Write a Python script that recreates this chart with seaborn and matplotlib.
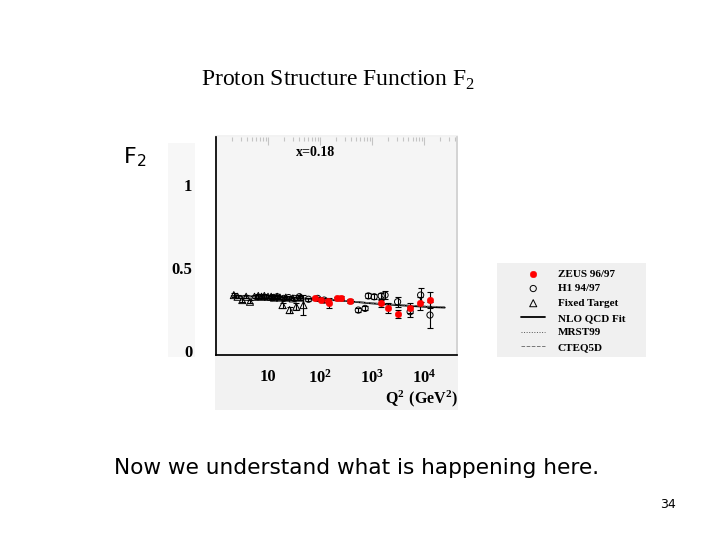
import numpy as np
import pandas as pd
import seaborn as sns
import matplotlib.pyplot as plt
from matplotlib.patches import Rectangle
from matplotlib.ticker import FixedLocator, FixedFormatter, LogLocator, NullFormatter, MultipleLocator
from matplotlib.transforms import ScaledTranslation

# Fixed target data (open triangles)
ft_q2 = [2.2, 2.6, 3.2, 3.8, 4.5, 5.5, 6.5, 7.5, 8.5, 10, 11.5, 13, 15, 17, 19, 22, 26, 30, 35, 42, 48]
ft_f2 = [0.36, 0.35, 0.33, 0.35, 0.32, 0.35, 0.355, 0.35, 0.355, 0.35, 0.35, 0.345, 0.35, 0.345,
         0.30, 0.345, 0.27, 0.34, 0.29, 0.345, 0.30]
ft_err = [0.01, 0.01, 0.01, 0.01, 0.01, 0.01, 0.01, 0.01, 0.01, 0.01, 0.01, 0.01, 0.01, 0.01,
          0.015, 0.01, 0.02, 0.01, 0.02, 0.012, 0.06]

# H1 94/97 (open circles)
h1_q2 = [12, 15, 20, 25, 32, 40, 60, 90, 120, 545, 735, 850, 1100, 1500, 1780, 3100, 5400, 8600, 13000]
h1_f2 = [0.345, 0.35, 0.34, 0.345, 0.34, 0.35, 0.335, 0.34, 0.33, 0.27, 0.28, 0.355, 0.35, 0.355,
         0.36, 0.32, 0.26, 0.36, 0.24]
h1_err = [0.01, 0.01, 0.01, 0.01, 0.01, 0.01, 0.01, 0.01, 0.01, 0.012, 0.012, 0.015, 0.015, 0.02,
          0.025, 0.03, 0.03, 0.04, 0.08]

# ZEUS 96/97 (red filled circles)
zeus_q2 = [80, 105, 140, 150, 210, 255, 380, 1500, 2050, 3100, 5400, 8400, 13000]
zeus_f2 = [0.34, 0.33, 0.325, 0.31, 0.34, 0.345, 0.325, 0.31, 0.28, 0.245, 0.28, 0.31, 0.33]
zeus_err = [0.008, 0.008, 0.008, 0.03, 0.008, 0.008, 0.01, 0.02, 0.03, 0.025, 0.03, 0.04, 0.05]

# theory curves
fit_q2 = [2, 5, 10, 30, 100, 300, 1000, 3000, 10000, 25000]
nlo_f2 = [0.355, 0.352, 0.348, 0.342, 0.335, 0.325, 0.31, 0.30, 0.29, 0.285]
mrst_f2 = [0.357, 0.354, 0.35, 0.343, 0.335, 0.324, 0.311, 0.302, 0.293, 0.288]
cteq_f2 = [0.353, 0.35, 0.347, 0.341, 0.334, 0.326, 0.312, 0.303, 0.294, 0.29]

xtick_pos = [10, 100, 1000, 10000]
xtick_labels = ["10", r"$\mathbf{10^{2}}$", r"$\mathbf{10^{3}}$", r"$\mathbf{10^{4}}$"]
ytick_pos = [0, 0.5, 1]
ytick_labels = ["0", "0.5", "1"]
legend_order = ["ZEUS 96/97", "H1 94/97", "Fixed Target", "NLO QCD Fit", "MRST99", "CTEQ5D"]

sns.set_theme(style="white")
plt.rcParams['font.family'] = ['Liberation Serif', 'DejaVu Sans']
plt.rcParams['mathtext.fontset'] = 'custom'
plt.rcParams['mathtext.rm'] = 'Liberation Serif'
plt.rcParams['mathtext.bf'] = 'Liberation Serif:bold'
plt.rcParams['mathtext.sf'] = 'DejaVu Sans'
plt.rcParams['text.color'] = 'black'
plt.rcParams['xtick.labelcolor'] = 'black'
plt.rcParams['ytick.labelcolor'] = 'black'

W, H = 720, 540
fig = plt.figure(figsize=(7.2, 5.4), dpi=100)


def box(x0, y0, x1, y1):
    return [x0 / W, 1 - y1 / H, (x1 - x0) / W, (y1 - y0) / H]


# grey backgrounds of the pasted pictures
for x0, y0, x1, y1, c in [(168, 143, 195, 357, '#f7f7f7'),
                          (215, 135, 458, 410, '#f2f2f2'),
                          (497, 263, 646, 357, '#f0f0f0')]:
    b = box(x0, y0, x1, y1)
    fig.add_artist(Rectangle((b[0], b[1]), b[2], b[3], transform=fig.transFigure,
                             color=c, zorder=0, lw=0))

ax = fig.add_axes(box(216, 137, 457, 355))
ax.set_facecolor('#f5f5f5')
ax.set_xscale('log')

# theory lines
sns.lineplot(x=fit_q2, y=nlo_f2, ax=ax, color='black', lw=1.3, label='NLO QCD Fit')
sns.lineplot(x=fit_q2, y=mrst_f2, ax=ax, color='#555555', lw=0.7, ls=':', label='MRST99')
sns.lineplot(x=fit_q2, y=cteq_f2, ax=ax, color='#777777', lw=0.7, ls='--', label='CTEQ5D')

# error bars
for q, f, e in [(ft_q2, ft_f2, ft_err), (h1_q2, h1_f2, h1_err), (zeus_q2, zeus_f2, zeus_err)]:
    ax.errorbar(q, f, yerr=e, fmt='none', ecolor='black', elinewidth=0.8, capsize=2, capthick=0.8)

sns.scatterplot(x=ft_q2, y=ft_f2, ax=ax, marker='^', s=26, facecolors='none',
                edgecolor='black', linewidth=0.7, label='Fixed Target', zorder=3)
sns.scatterplot(x=h1_q2, y=h1_f2, ax=ax, marker='o', s=20, facecolors='none',
                edgecolor='black', linewidth=0.7, label='H1 94/97', zorder=3)
sns.scatterplot(x=zeus_q2, y=zeus_f2, ax=ax, marker='o', s=22, color='red',
                edgecolor='red', label='ZEUS 96/97', zorder=4)

ax.set_xlim(1, 4.3e4)
ax.set_ylim(0, 1.31)
ax.set_xlabel('')
ax.set_ylabel('')

ax.xaxis.set_major_locator(FixedLocator(xtick_pos))
ax.xaxis.set_major_formatter(FixedFormatter(xtick_labels))
ax.xaxis.set_minor_locator(LogLocator(base=10, subs=np.arange(2, 10), numticks=20))
ax.xaxis.set_minor_formatter(NullFormatter())
ax.yaxis.set_major_locator(FixedLocator(ytick_pos))
ax.yaxis.set_major_formatter(FixedFormatter(ytick_labels))
ax.yaxis.set_minor_locator(MultipleLocator(0.1))

ax.tick_params(axis='both', which='both', direction='in', color='#333333', width=0.8)
ax.tick_params(axis='both', which='major', length=7)
ax.tick_params(axis='both', which='minor', length=4)
ax.tick_params(axis='y', which='major', pad=17, labelsize=12)
ax.tick_params(axis='x', which='major', pad=10, labelsize=12)
for lab in ax.get_xticklabels() + ax.get_yticklabels():
    lab.set_fontweight('bold')
for lab in ax.get_yticklabels():
    lab.set_transform(lab.get_transform() + ScaledTranslation(0, 4 / 100, fig.dpi_scale_trans))

# faint ticks along the top edge
top = ax.secondary_xaxis('top')
top.xaxis.set_major_locator(FixedLocator(xtick_pos))
top.xaxis.set_minor_locator(LogLocator(base=10, subs=np.arange(2, 10), numticks=20))
top.xaxis.set_major_formatter(NullFormatter())
top.xaxis.set_minor_formatter(NullFormatter())
top.tick_params(which='both', direction='in', color='#c4c4c4', width=0.8)
top.tick_params(which='major', length=6)
top.tick_params(which='minor', length=3)
top.spines['top'].set_visible(False)

ax.spines['top'].set_visible(False)
ax.spines['right'].set_color('#d0d0d0')
ax.spines['left'].set_color('black')
ax.spines['bottom'].set_color('black')

ax.text(0.33, 0.93, 'x=0.18', transform=ax.transAxes, fontsize=10, fontweight='bold',
        va='center', ha='left')

# legend
handles, labels = ax.get_legend_handles_labels()
ax.get_legend().remove()
hmap = dict(zip(labels, handles))
fig.legend([hmap[k] for k in legend_order], legend_order, loc='upper left',
           bbox_to_anchor=(521 / W, 1 - 269 / H), frameon=False,
           prop=dict(family='Liberation Serif', weight='bold', size=8),
           handlelength=2.2, handletextpad=1.1, labelspacing=0.44,
           borderpad=0, borderaxespad=0)

fig.text(458 / W, 1 - 399 / H, r"$\mathbf{Q^{2}\ (GeV^{2})}$", ha='right', va='center',
         fontsize=11.5)

# slide text
fig.text(338 / W, 1 - 80 / H, "Proton Structure Function F$_{2}$", ha='center',
         va='center', fontsize=17)
fig.text(135 / W, 1 - 157 / H, r"F$_{\mathsf{2}}$", ha='center', va='center',
         fontsize=16, family='DejaVu Sans')
fig.text(357 / W, 1 - 468 / H, "Now we understand what is happening here.", ha='center',
         va='center', fontsize=15.6, family='DejaVu Sans')
fig.text(668 / W, 1 - 504 / H, "34", ha='center', va='center', fontsize=9,
         family='DejaVu Sans')

plt.savefig('out.png', dpi=100)
